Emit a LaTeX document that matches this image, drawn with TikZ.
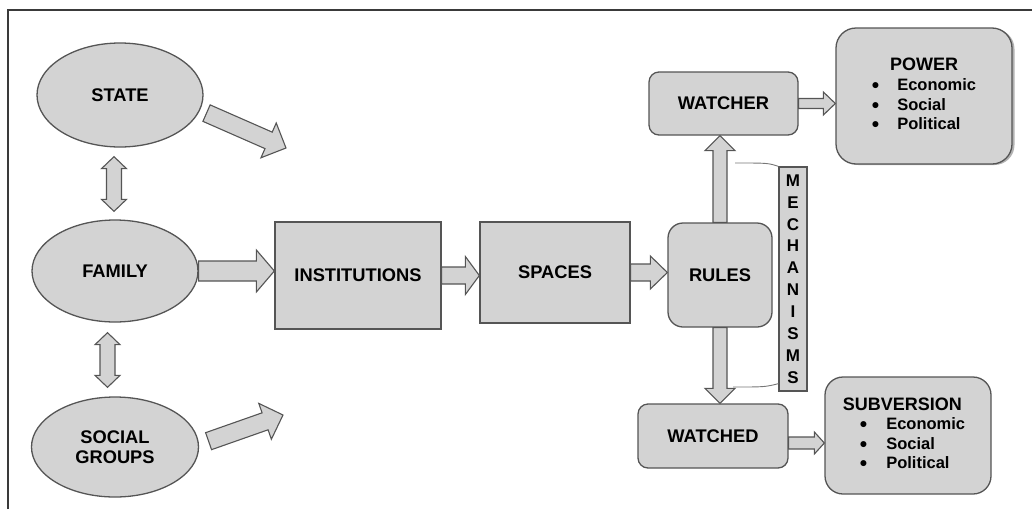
\documentclass[tikz,border=0pt]{standalone}
\usepackage{fontspec}
\setmainfont{Liberation Sans}
\usepackage{xcolor}
\usetikzlibrary{shapes,arrows,positioning,calc,shadows}

\definecolor{boxgrey}{HTML}{D3D3D3}
\definecolor{edgegrey}{HTML}{555555}
\definecolor{framegrey}{HTML}{3A3A3A}

\newcommand{\listdot}{\smash{\raisebox{-2pt}{\fontsize{21}{19}\selectfont\textbullet}}}

\tikzset{
  oval/.style={ellipse, draw=edgegrey, fill=boxgrey, line width=1.3pt, inner sep=0pt},
  block/.style={rectangle, draw=edgegrey, fill=boxgrey, line width=1.3pt, inner sep=0pt},
  soft/.style={block, rounded corners=#1},
  % block arrow: half shaft, half head, head length
  fat/.style n args={3}{draw=edgegrey, fill=boxgrey, line width=1.1pt, line join=miter,
    to path={($(\tikztostart)!#1!90:(\tikztotarget)$)
      -- ($(\tikztotarget)!#3!(\tikztostart)!#1!-90:(\tikztostart)$)
      -- ($(\tikztotarget)!#3!(\tikztostart)!#2!-90:(\tikztostart)$)
      -- (\tikztotarget)
      -- ($(\tikztotarget)!#3!(\tikztostart)!#2!90:(\tikztostart)$)
      -- ($(\tikztotarget)!#3!(\tikztostart)!#1!90:(\tikztostart)$)
      -- ($(\tikztostart)!#1!-90:(\tikztotarget)$)
      -- cycle}},
  % block arrow with two heads
  dbl/.style n args={3}{draw=edgegrey, fill=boxgrey, line width=1.1pt, line join=miter,
    to path={(\tikztostart)
      -- ($(\tikztostart)!#3!(\tikztotarget)!#2!90:(\tikztotarget)$)
      -- ($(\tikztostart)!#3!(\tikztotarget)!#1!90:(\tikztotarget)$)
      -- ($(\tikztotarget)!#3!(\tikztostart)!#1!-90:(\tikztostart)$)
      -- ($(\tikztotarget)!#3!(\tikztostart)!#2!-90:(\tikztostart)$)
      -- (\tikztotarget)
      -- ($(\tikztotarget)!#3!(\tikztostart)!#2!90:(\tikztostart)$)
      -- ($(\tikztotarget)!#3!(\tikztostart)!#1!90:(\tikztostart)$)
      -- ($(\tikztostart)!#3!(\tikztotarget)!#1!-90:(\tikztotarget)$)
      -- ($(\tikztostart)!#3!(\tikztotarget)!#2!-90:(\tikztotarget)$)
      -- cycle}},
  brace/.style={draw=edgegrey!80, line width=0.9pt}
}

\begin{document}
\begin{tikzpicture}[x=1pt, y=-1pt, font=\fontsize{18.3}{20}\selectfont\bfseries]
    \useasboundingbox (0,0) rectangle (1032,509);
    % Frame
    \draw[framegrey, line width=1.4pt] (8,509) -- (8,10) -- (1032,10);

    % Sources
    \node[oval, minimum width=166, minimum height=104] (state) at (120,95) {STATE};
    \node[oval, minimum width=166, minimum height=102] (family) at (115,271) {FAMILY};
    \node[oval, minimum width=167, minimum height=100, align=center] (social) at (115,447) {SOCIAL\\GROUPS};

    % Main chain
    \node[block, minimum width=166, minimum height=107] (inst) at (358,275.5) {INSTITUTIONS};
    \node[block, minimum width=150, minimum height=101] (spaces) at (555,272.5) {SPACES};
    \node[soft=15pt, minimum width=104, minimum height=104] (rules) at (720,275) {RULES};
    \node[soft=10pt, minimum width=149, minimum height=63] (watcher) at (723.5,103.5) {WATCHER};
    \node[soft=10pt, minimum width=150, minimum height=64] (watched) at (713,436) {WATCHED};
    \node[block, minimum width=28, minimum height=224, align=center,
          font=\fontsize{17}{21.9}\selectfont\bfseries] (mech) at (793,279) {M\\E\\C\\H\\A\\N\\I\\S\\M\\S};

    % Outcomes
    \node[soft=20pt, minimum width=176, minimum height=136,
          drop shadow={shadow xshift=2.5pt, shadow yshift=-1pt, fill=black!60}] (power) at (924,96)
      {\fontsize{16.5}{19.5}\selectfont
       \begin{tabular}{@{}c@{\hspace{18pt}}l@{}}
         \multicolumn{2}{c}{\fontsize{18}{20}\selectfont POWER}\\[1pt]
         \listdot & Economic\\
         \listdot & Social\\
         \listdot & Political
       \end{tabular}};
    \node[soft=18pt, minimum width=166, minimum height=117] (subv) at (908,435.5)
      {\fontsize{16.5}{19.5}\selectfont
       \begin{tabular}{@{}l@{\hspace{8pt}}}
         {\fontsize{18}{20}\selectfont SUBVERSION}\\
         \hspace{17pt}\listdot\hspace{19pt}Economic\\
         \hspace{17pt}\listdot\hspace{19pt}Social\\
         \hspace{17pt}\listdot\hspace{19pt}Political
       \end{tabular}};

    % Free ends
    \coordinate (statetip) at (286,148);
    \coordinate (socialtip) at (283,415);
    \coordinate (mtop) at (735,163);
    \coordinate (mbot) at (733,387);
    \coordinate (wdout) at ([yshift=-7pt]watched.east);

    % Block arrows
    \draw[dbl={7.5pt}{12.5pt}{12pt}] ([xshift=-6pt,yshift=-9pt]state.south) to ([xshift=-1pt,yshift=8pt]family.north);
    \draw[dbl={7.5pt}{12.5pt}{12pt}] ([xshift=-7.5pt,yshift=-10pt]family.south) to ([xshift=-7.5pt,yshift=9pt]social.north);
    \draw[fat={9pt}{19pt}{19pt}] ([xshift=8pt]state.-13) to (statetip);
    \draw[fat={9pt}{19pt}{19pt}] ([xshift=10pt]social.4) to (socialtip);
    \draw[fat={10pt}{21pt}{18pt}] (family.east) to (family.east -| inst.west);
    \draw[fat={8.5pt}{19pt}{14pt}] (inst.east) to (inst.east -| spaces.west);
    \draw[fat={8.5pt}{16.5pt}{17pt}] (spaces.east) to (spaces.east -| rules.west);
    \draw[fat={7pt}{15pt}{15pt}] (rules.north) to (rules.north |- watcher.south);
    \draw[fat={7pt}{15pt}{15pt}] (rules.south) to (rules.south |- watched.north);
    \draw[fat={5pt}{11.5pt}{12pt}] (watcher.east) to (watcher.east -| power.west);
    \draw[fat={6pt}{11pt}{10pt}] (wdout) to (wdout -| subv.west);

    % Mechanism brackets
    \draw[brace] (mech.north west) .. controls (768,163) .. (mtop);
    \draw[brace] ([yshift=8pt]mech.south west) .. controls (765,387) .. (mbot);
\end{tikzpicture}
\end{document}
